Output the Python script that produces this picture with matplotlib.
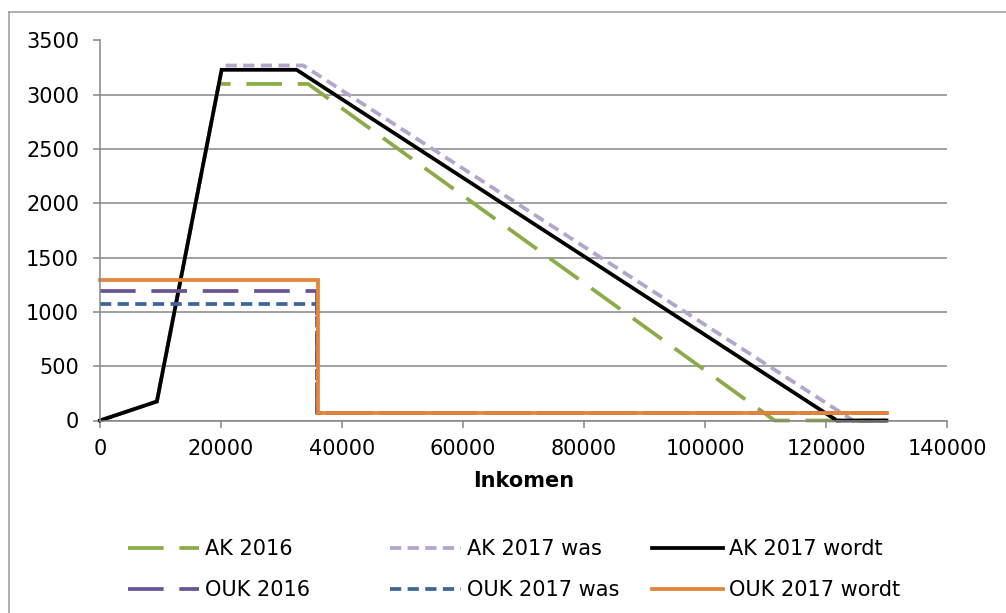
import matplotlib
matplotlib.use("Agg")
import matplotlib.pyplot as plt
from matplotlib.lines import Line2D

# data
ak2016_x = [0, 9400, 19650, 34400, 111500, 130000]
ak2016_y = [0, 175, 3100, 3100, 0, 0]
ak2017was_x = [0, 9400, 20250, 33600, 124500, 130000]
ak2017was_y = [0, 175, 3270, 3270, 0, 0]
ak2017wordt_x = [0, 9400, 20100, 32500, 121800, 130000]
ak2017wordt_y = [0, 175, 3230, 3230, 0, 0]
ouk2016_x = [0, 35800, 35800, 130000]
ouk2016_y = [1190, 1190, 72, 72]
ouk2017was_x = [0, 35800, 35800, 130000]
ouk2017was_y = [1075, 1075, 72, 72]
ouk2017wordt_x = [0, 36100, 36100, 130000]
ouk2017wordt_y = [1290, 1290, 72, 72]

x_ticks = [0, 20000, 40000, 60000, 80000, 100000, 120000, 140000]
y_ticks = [0, 500, 1000, 1500, 2000, 2500, 3000, 3500]

plt.rcParams['font.family'] = ['DejaVu Sans']
W, H = 1006, 613
fig = plt.figure(figsize=(W / 100, H / 100), dpi=100)
ax = fig.add_axes([100 / W, 1 - 420.5 / H, 847 / W, 380 / H])

grey = '#868686'
lw = 2.7
fs = 15
series = [
    (ak2016_x, ak2016_y, 'AK 2016', '#89AC46', (0, (9.5, 4.2))),
    (ak2017was_x, ak2017was_y, 'AK 2017 was', '#B5A5CC', (0, (3.0, 1.7))),
    (ak2017wordt_x, ak2017wordt_y, 'AK 2017 wordt', '#000000', '-'),
    (ouk2016_x, ouk2016_y, 'OUK 2016', '#6B5494', (0, (9.5, 4.2))),
    (ouk2017was_x, ouk2017was_y, 'OUK 2017 was', '#3C6699', (0, (3.0, 1.7))),
    (ouk2017wordt_x, ouk2017wordt_y, 'OUK 2017 wordt', '#E3843A', '-'),
]
handles = []
for xs, ys, lab, col, ls in series:
    h, = ax.plot(xs, ys, color=col, lw=lw, linestyle=ls, label=lab,
                 solid_joinstyle='miter', clip_on=False)
    handles.append(h)

ax.set_xlim(0, 140000)
ax.set_ylim(0, 3500)
ax.set_xticks(x_ticks)
ax.set_yticks(y_ticks)
ax.set_xticklabels([str(v) for v in x_ticks])
ax.set_yticklabels([str(v) for v in y_ticks])
ax.grid(axis='y', color=grey, lw=1.1)
ax.set_axisbelow(True)
for s in ['top', 'right']:
    ax.spines[s].set_visible(False)
for s in ['left', 'bottom']:
    ax.spines[s].set_color(grey)
    ax.spines[s].set_linewidth(1.1)
ax.tick_params(axis='both', colors=grey, labelcolor='black', labelsize=fs,
               length=5, width=1.1, direction='out')
ax.tick_params(axis='y', pad=10)
ax.tick_params(axis='x', pad=8)
ax.set_xlabel('Inkomen', fontsize=fs, fontweight='bold', labelpad=9)

# legend: three equal columns like Excel
col_x = [128, 390, 652]
for i, cx in enumerate(col_x):
    fig.legend([handles[i], handles[i + 3]],
               [handles[i].get_label(), handles[i + 3].get_label()],
               loc='upper left', bbox_to_anchor=(cx / W, 1 - 539 / H),
               frameon=False, fontsize=fs, handlelength=3.4,
               handletextpad=0.3, labelspacing=1.0, borderpad=0,
               borderaxespad=0)

# outer chart border
fig.add_artist(Line2D([8.5 / W, 8.5 / W], [0, 1 - 12 / H], color='#9a9a9a', lw=1.1))
fig.add_artist(Line2D([8.5 / W, 1], [1 - 12 / H, 1 - 12 / H], color='#9a9a9a', lw=1.1))

fig.savefig('out.png', dpi=100)
